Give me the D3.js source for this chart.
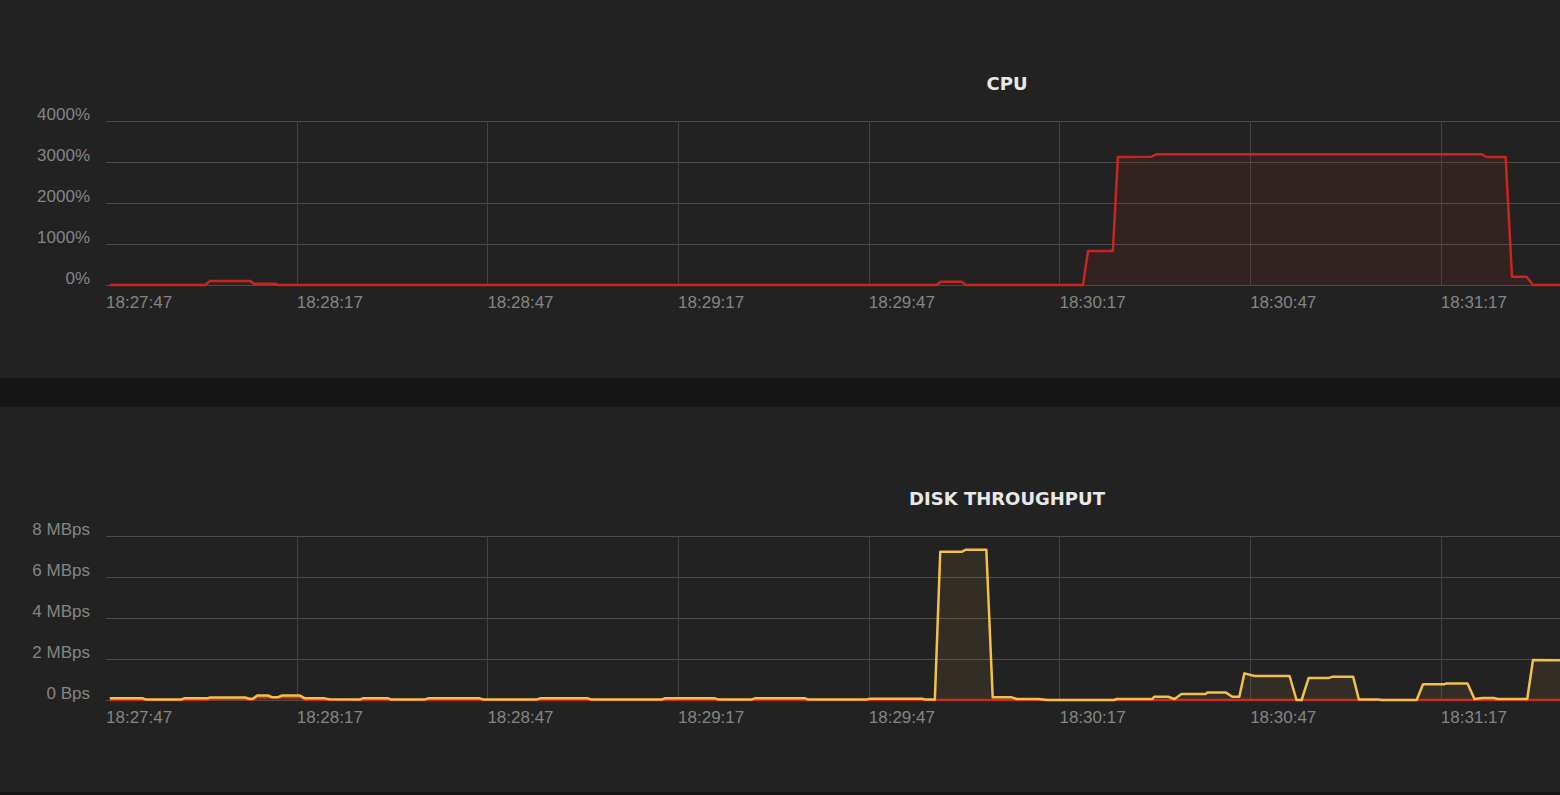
<!DOCTYPE html>
<html>
<head>
<meta charset="utf-8">
<script src="https://cdn.jsdelivr.net/npm/d3@7"></script>
<style>
  html, body { margin: 0; padding: 0; background: #161616; overflow: hidden; }
  svg { display: block; }
  .tick-label { font-family: "Liberation Sans", Arial, sans-serif; font-size: 17px; fill: #858585; }
  .title { font-family: "DejaVu Sans", sans-serif; font-size: 18px; font-weight: 600; fill: #e8e8e8; }
</style>
</head>
<body>
<svg id="chart"></svg>
<script>
// Tick labels
const timeTicks = ["18:27:47", "18:28:17", "18:28:47", "18:29:17", "18:29:47", "18:30:17", "18:30:47", "18:31:17"];
const cpuTicks = [0, 1000, 2000, 3000, 4000];
const diskTicks = [0, 2, 4, 6, 8];

// CPU (%), seconds after 18:27:47
const cpuSeconds = [0.6, 15.6, 16.4, 22.7, 23.3, 26.7, 27.1, 130.7, 131.3, 134.6, 135.3, 153.7, 154.5, 158.4,
  159.2, 164.5, 165.3, 216.4, 217.2, 220.2, 221.2, 223.5, 224.5, 229.5];
const cpuValues = [0, 0, 100, 100, 30, 30, 0, 0, 80, 80, 0, 0, 830, 830,
  3120, 3130, 3190, 3190, 3120, 3120, 200, 200, 0, 0];

// Disk throughput, yellow series (MBps)
const diskReadSeconds = [0.6, 5.8, 6.3, 11.8, 12.3, 15.9, 16.4, 21.9, 22.5, 23.1, 23.8, 25.5, 26.1, 27.1,
  27.7, 30.5, 31.3, 34.4, 35.1, 40.0, 40.4, 44.4, 44.8, 50.2, 50.7, 58.8, 59.3, 67.8, 68.3, 75.8, 76.3,
  87.5, 87.9, 95.8, 96.3, 101.6, 102.1, 110.0, 110.4, 119.7, 120.2, 128.4, 128.8, 130.4, 131.25, 134.6,
  135.3, 138.5, 139.5, 142.5, 143.3, 146.7, 148.1, 158.6, 159.0, 164.6, 164.9, 167.1, 168.1, 169.2,
  173.0, 173.3, 176.2, 177.2, 178.3, 179.1, 180.7, 186.2, 187.3, 188.1, 189.2, 192.3, 193.0, 196.2,
  197.1, 200.1, 200.7, 206.2, 207.2, 210.6, 210.9, 214.2, 215.3, 216.6, 218.3, 219.0, 223.6, 224.5, 229.5];
const diskReadValues = [0.08, 0.08, 0.02, 0.02, 0.08, 0.08, 0.12, 0.12, 0.06, 0.06, 0.22, 0.22, 0.14, 0.14,
  0.22, 0.22, 0.08, 0.08, 0.04, 0.03, 0.08, 0.08, 0.03, 0.03, 0.08, 0.08, 0.03, 0.03, 0.08, 0.08, 0.03,
  0.03, 0.08, 0.08, 0.03, 0.03, 0.08, 0.08, 0.03, 0.03, 0.06, 0.06, 0.03, 0.03, 7.23, 7.23,
  7.33, 7.33, 0.13, 0.13, 0.05, 0.05, 0, 0, 0.05, 0.05, 0.16, 0.16, 0.05, 0.29,
  0.29, 0.36, 0.36, 0.16, 0.16, 1.30, 1.17, 1.17, 0, 0, 1.07, 1.07, 1.14, 1.14,
  0.03, 0.03, 0, 0, 0.77, 0.77, 0.81, 0.81, 0.05, 0.1, 0.1, 0.05, 0.05, 1.95, 1.93];

// Disk throughput, red series (MBps)
const diskWriteSeconds = [0.6, 15.9, 16.4, 21.9, 22.5, 23.1, 23.8, 30.5, 31.3, 229.5];
const diskWriteValues = [0, 0, 0.05, 0.05, 0, 0, 0.14, 0.14, 0, 0];

const W = 1560, H = 795;
const red = "#c9261f";
const yellow = "#f3c04c";
const gridColor = "#4b4b4b";

const svg = d3.select("#chart").attr("width", W).attr("height", H);

// Panels
svg.append("rect").attr("x", 0).attr("y", 0).attr("width", W).attr("height", 378).attr("fill", "#222222");
svg.append("rect").attr("x", 0).attr("y", 407).attr("width", W).attr("height", 385).attr("fill", "#222222");

const parseTime = d3.timeParse("%H:%M:%S");
const t0 = parseTime(timeTicks[0]);
const toDate = s => new Date(t0.getTime() + s * 1000);
const tickDates = timeTicks.map(parseTime);

// plot is wider than the window, centred title sits on its middle
const x = d3.scaleTime()
  .domain([t0, toDate(283.5)])
  .range([106, 1908]);

const zip = (secs, vals) => secs.map((s, i) => ({ t: toDate(s), v: vals[i] }));

function drawChart(opts) {
  const g = svg.append("g");
  const y = d3.scaleLinear().domain([0, opts.ticks[opts.ticks.length - 1]]).range([opts.bottom, opts.top]);

  g.append("text")
    .attr("class", "title")
    .attr("x", (x.range()[0] + x.range()[1]) / 2)
    .attr("y", opts.top - 31)
    .attr("text-anchor", "middle")
    .text(opts.title);

  // horizontal grid
  g.selectAll("line.h").data(opts.ticks).join("line")
    .attr("x1", x.range()[0]).attr("x2", x.range()[1])
    .attr("y1", d => y(d) + 0.5).attr("y2", d => y(d) + 0.5)
    .attr("stroke", gridColor).attr("stroke-width", 1);

  // vertical grid, none on the first tick
  g.selectAll("line.v").data(tickDates.slice(1)).join("line")
    .attr("x1", d => Math.round(x(d)) + 0.5).attr("x2", d => Math.round(x(d)) + 0.5)
    .attr("y1", opts.top).attr("y2", opts.bottom)
    .attr("stroke", "#434343").attr("stroke-width", 1);

  // y labels
  g.selectAll("text.yl").data(opts.ticks).join("text")
    .attr("class", "tick-label")
    .attr("x", 90)
    .attr("y", d => y(d) - 1.5)
    .attr("text-anchor", "end")
    .text(opts.format);

  // x labels
  g.selectAll("text.xl").data(tickDates).join("text")
    .attr("class", "tick-label")
    .attr("x", d => x(d))
    .attr("y", opts.bottom + 23)
    .text((d, i) => timeTicks[i]);

  const area = d3.area().x(d => x(d.t)).y0(y(0)).y1(d => y(d.v));
  const line = d3.line().x(d => x(d.t)).y(d => y(d.v));

  opts.series.forEach(s => {
    g.append("path").datum(s.data)
      .attr("d", area)
      .attr("fill", s.color).attr("fill-opacity", s.fillOpacity);
    g.append("path").datum(s.data)
      .attr("d", line)
      .attr("fill", "none")
      .attr("stroke", s.color).attr("stroke-width", 2.5)
      .attr("stroke-linejoin", "round");
  });
}

drawChart({
  title: "CPU",
  top: 121,
  bottom: 285,
  ticks: cpuTicks,
  format: d => d + "%",
  series: [{ data: zip(cpuSeconds, cpuValues), color: red, fillOpacity: 0.1 }]
});

drawChart({
  title: "DISK THROUGHPUT",
  top: 536,
  bottom: 700,
  ticks: diskTicks,
  format: d => d === 0 ? "0 Bps" : d + " MBps",
  series: [
    { data: zip(diskWriteSeconds, diskWriteValues), color: red, fillOpacity: 0.1 },
    { data: zip(diskReadSeconds, diskReadValues), color: yellow, fillOpacity: 0.08 }
  ]
});
</script>
</body>
</html>
